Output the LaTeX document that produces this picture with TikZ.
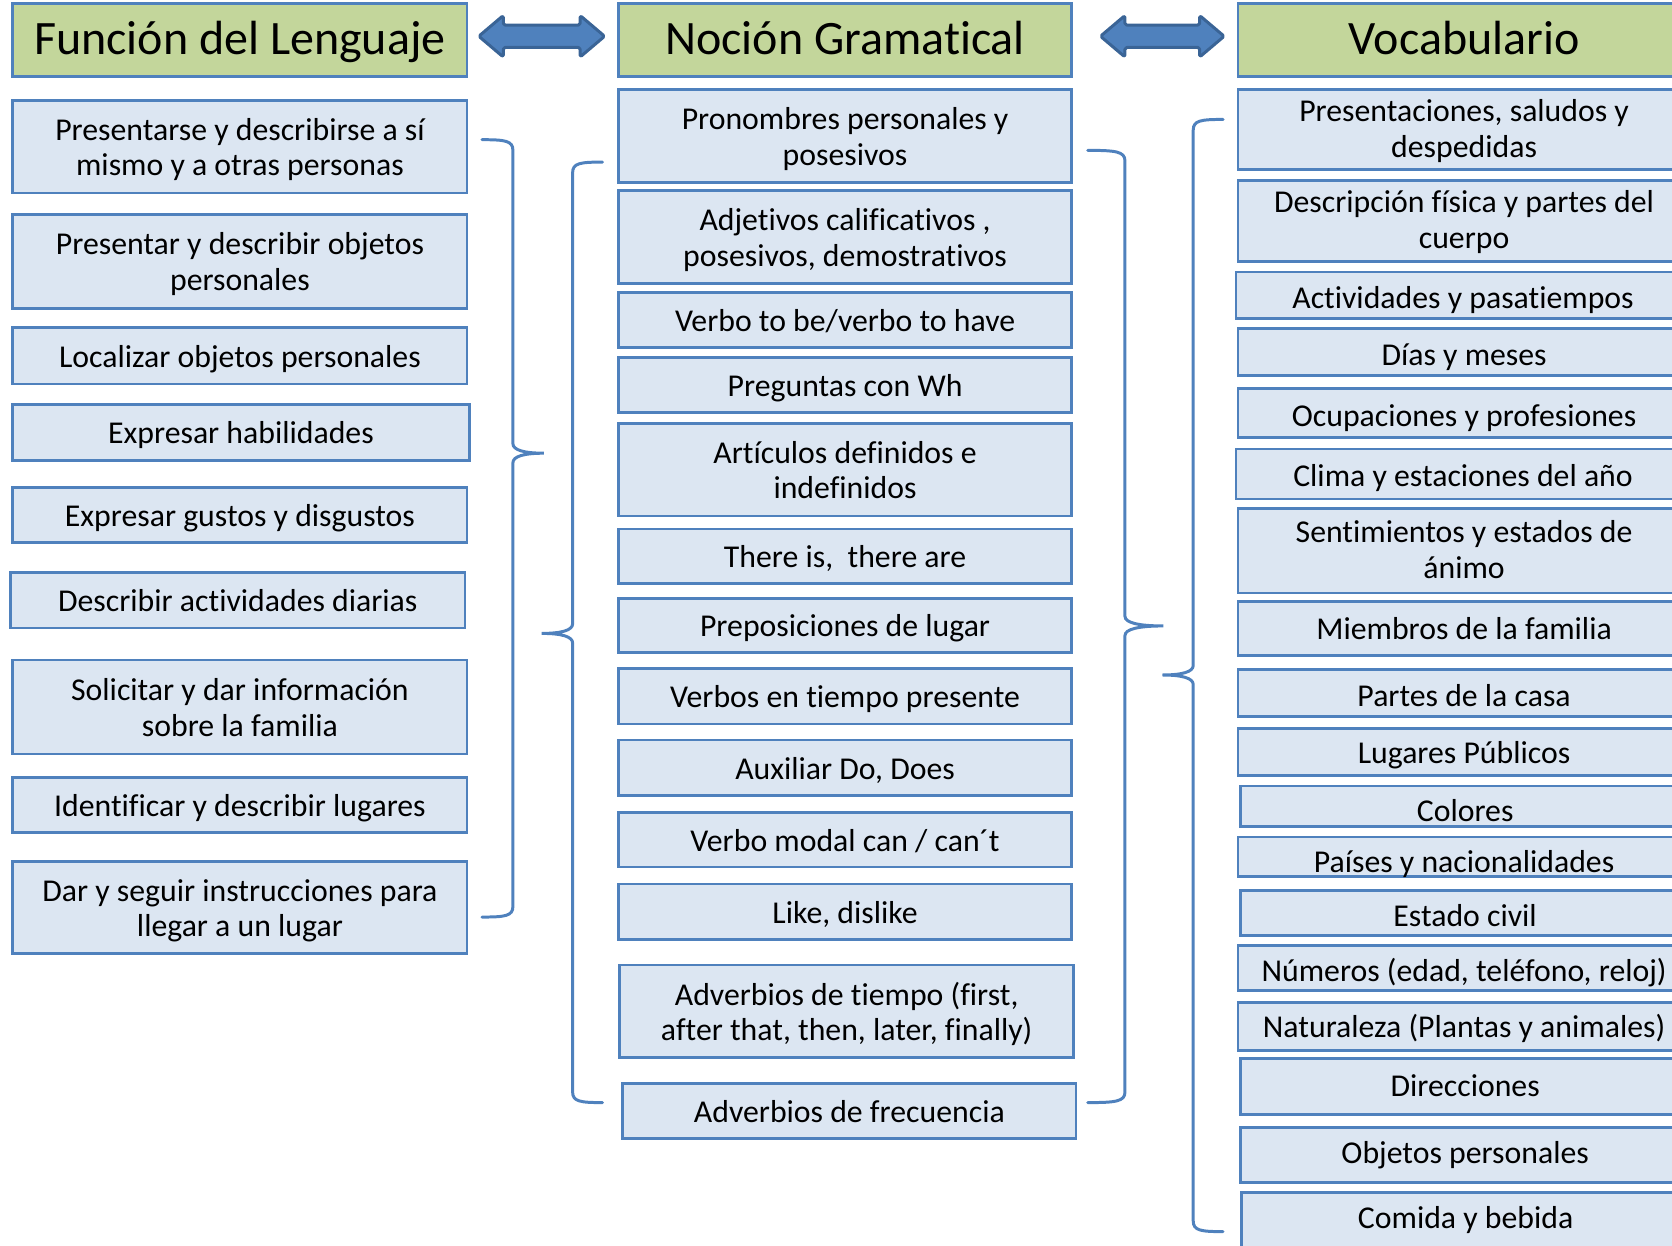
\documentclass[tikz,border=0pt]{standalone}
\usepackage{fontspec}
\setmainfont{Carlito}[Ligatures=CommonOff]
\definecolor{bordc}{HTML}{4F81BD}
\definecolor{hdrc}{HTML}{C3D69B}
\definecolor{cellc}{HTML}{DCE6F2}
\definecolor{arrowline}{HTML}{3A6496}
\tikzset{
  hdr/.style={draw=bordc, fill=hdrc, line width=1.3pt, inner sep=0pt,
    font=\fontsize{22.5}{27}\selectfont},
  cell/.style={draw=bordc, fill=cellc, line width=1.3pt, inner sep=0pt,
    font=\fontsize{14.9}{16.7}\selectfont},
  bracestyle/.style={draw=bordc, line width=1.4pt, line cap=round},
  blockarrow/.style={fill=bordc, draw=arrowline, line width=1.4pt, rounded corners=0.8pt, line join=round},
}
% box: [text shift down], name, x1, y1, x2, y2, style, text
\newcommand\mybox[8][2pt]{\node[#7, minimum width={(#5-#3)*0.5pt}, minimum height={(#6-#4)*0.5pt}]
  (#2) at ({(#3+#5)/2},{(#4+#6)/2})
  {\raisebox{-#1}[\height][\depth]{\begin{tabular}{@{}c@{}}#8\end{tabular}}};}
% brace: end x, vertical x, tip x, top y, tip y, bottom y
\newcommand\mybrace[6]{\draw[bracestyle]
  (#1,#4) .. controls ({#1+0.75*(#2-#1)},#4) and (#2,{#4+1}) .. (#2,{#4+10})
  -- (#2,{#5-9}) .. controls (#2,{#5-3}) and ({#2+0.35*(#3-#2)},#5) .. (#3,#5)
  .. controls ({#2+0.35*(#3-#2)},#5) and (#2,{#5+3}) .. (#2,{#5+9})
  -- (#2,{#6-10}) .. controls (#2,{#6-1}) and ({#1+0.75*(#2-#1)},#6) .. (#1,#6);}
% double arrow: x1, x2, yc
\newcommand\mydblarrow[3]{\draw[blockarrow]
  (#1,#3) -- ({#1+23},{#3-19.5}) -- ({#1+23},{#3-10.5}) -- ({#2-23},{#3-10.5})
  -- ({#2-23},{#3-19.5}) -- (#2,#3) -- ({#2-23},{#3+19.5}) -- ({#2-23},{#3+10.5})
  -- ({#1+23},{#3+10.5}) -- ({#1+23},{#3+19.5}) -- cycle;}
\begin{document}
\begin{tikzpicture}[x=0.5pt,y=-0.5pt]
\useasboundingbox (0,0) rectangle (1568,1168);
\clip (0,0) rectangle (1568,1168);
% headers
\mybox[1.6pt]{h1}{12}{3}{438}{72}{hdr}{Función del Lenguaje}
\mybox[1.6pt]{h2}{580}{3}{1005}{72}{hdr}{Noción Gramatical}
\mybox[1.6pt]{h3}{1161}{3}{1585}{72}{hdr}{Vocabulario}
\mydblarrow{449}{567}{34}
\mydblarrow{1032}{1148}{34}
% left column
\mybox{l1}{12}{94}{438}{181}{cell}{Presentarse y describirse a sí\\mismo y a otras personas}
\mybox{l2}{12}{201}{438}{289}{cell}{Presentar y describir objetos\\personales}
\mybox{l3}{12}{307}{438}{360}{cell}{Localizar objetos personales}
\mybox{l4}{12}{379}{440}{432}{cell}{Expresar habilidades}
\mybox{l5}{12}{457}{438}{509}{cell}{Expresar gustos y disgustos}
\mybox{l6}{10}{537}{436}{589}{cell}{Describir actividades diarias}
\mybox{l7}{12}{619}{438}{707}{cell}{Solicitar y dar información\\sobre la familia}
\mybox{l8}{12}{729}{438}{781}{cell}{Identificar y describir lugares}
\mybox{l9}{12}{808}{438}{894}{cell}{Dar y seguir instrucciones para\\llegar a un lugar}
% middle column
\mybox{m1}{580}{84}{1005}{171}{cell}{Pronombres personales y\\posesivos}
\mybox{m2}{580}{179}{1005}{266}{cell}{Adjetivos calificativos ,\\posesivos, demostrativos}
\mybox{m3}{580}{274}{1005}{326}{cell}{Verbo to be/verbo to have}
\mybox{m4}{580}{335}{1005}{387}{cell}{Preguntas con Wh}
\mybox{m5}{580}{397}{1005}{484}{cell}{Artículos definidos e\\indefinidos}
\mybox{m6}{580}{496}{1005}{547}{cell}{There is,\ \ there are}
\mybox{m7}{580}{561}{1005}{612}{cell}{Preposiciones de lugar}
\mybox{m8}{580}{627}{1005}{679}{cell}{Verbos en tiempo presente}
\mybox{m9}{580}{694}{1005}{746}{cell}{Auxiliar Do, Does}
\mybox{m10}{580}{762}{1005}{813}{cell}{Verbo modal can / can´t}
\mybox{m11}{580}{829}{1005}{881}{cell}{Like, dislike}
\mybox{m12}{581}{905}{1007}{992}{cell}{Adverbios de tiempo (first,\\after that, then, later, finally)}
\mybox{m13}{584}{1016}{1009}{1068}{cell}{Adverbios de frecuencia}
% right column
\mybox[1.25pt]{r1}{1161}{84}{1585}{159}{cell}{Presentaciones, saludos y\\despedidas}
\mybox[1.25pt]{r2}{1161}{169}{1585}{245}{cell}{Descripción física y partes del\\cuerpo}
\mybox[3pt]{r3}{1159}{255}{1585}{299}{cell}{Actividades y pasatiempos}
\mybox[3pt]{r4}{1161}{308}{1585}{352}{cell}{Días y meses}
\mybox[3pt]{r5}{1161}{364}{1585}{410}{cell}{Ocupaciones y profesiones}
\mybox[2.3pt]{r6}{1159}{421}{1585}{468}{cell}{Clima y estaciones del año}
\mybox[1.25pt]{r7}{1161}{477}{1585}{556}{cell}{Sentimientos y estados de\\ánimo}
\mybox[1.9pt]{r8}{1161}{564}{1585}{615}{cell}{Miembros de la familia}
\mybox[3pt]{r9}{1161}{628}{1585}{672}{cell}{Partes de la casa}
\mybox[2.1pt]{r10}{1161}{683}{1585}{727}{cell}{Lugares Públicos}
\mybox[3.85pt]{r11}{1163}{737}{1585}{775}{cell}{Colores}
\mybox[4.2pt]{r12}{1161}{785}{1585}{822}{cell}{Países y nacionalidades}
\mybox[2.9pt]{r13}{1163}{835}{1585}{877}{cell}{Estado civil}
\mybox[2.9pt]{r14}{1161}{887}{1585}{929}{cell}{Números (edad, teléfono, reloj)}
\mybox[2pt]{r15}{1161}{940}{1585}{985}{cell}{Naturaleza (Plantas y animales)}
\mybox[1.2pt]{r16}{1163}{993}{1585}{1045}{cell}{Direcciones}
\mybox[0.6pt]{r17}{1163}{1057}{1585}{1109}{cell}{Objetos personales}
\mybox[0.2pt]{r18}{1164}{1118}{1585}{1172}{cell}{Comida y bebida}
% braces
\mybrace{452}{481}{510}{131}{425}{860}
\mybrace{565}{537}{508}{152}{594}{1034}
\mybrace{1020}{1055}{1091}{141}{587}{1034}
\mybrace{1147}{1119}{1090}{112}{633}{1155}
\end{tikzpicture}
\end{document}
